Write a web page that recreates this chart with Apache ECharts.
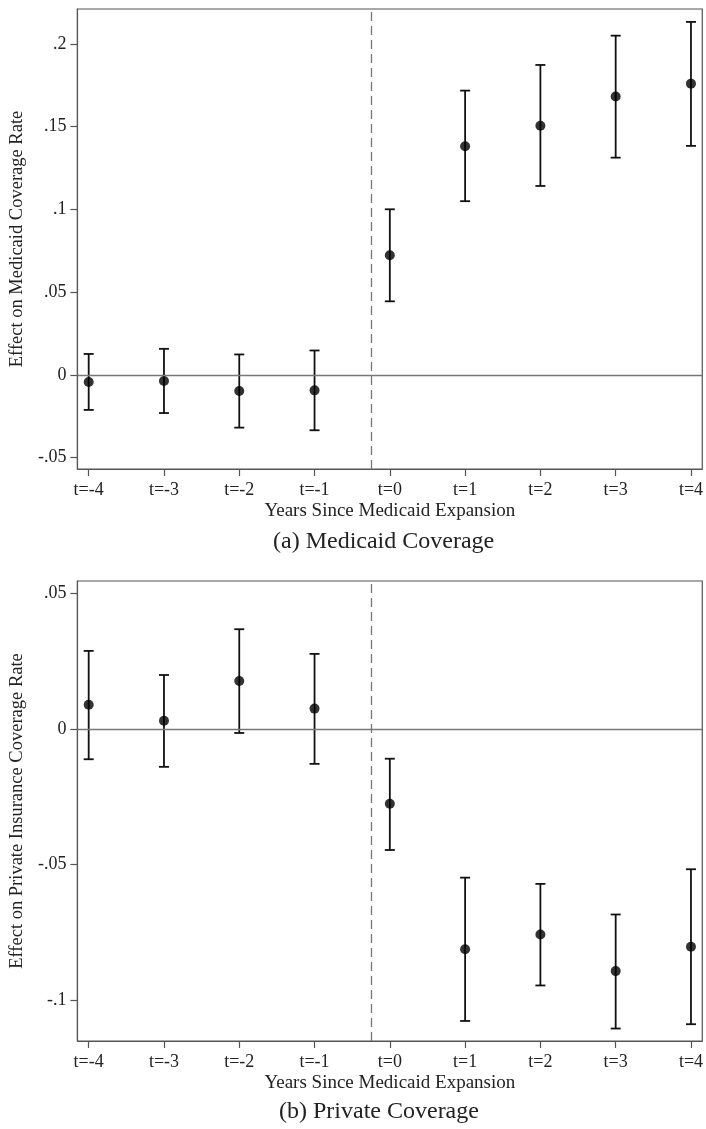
<!DOCTYPE html>
<html>
<head>
<meta charset="utf-8">
<script src="https://cdn.jsdelivr.net/npm/echarts@6/dist/echarts.min.js"></script>
<style>
html,body{margin:0;padding:0;background:#fff;}
#chart{width:706px;height:1129px;}
</style>
</head>
<body>
<div id="chart"></div>
<script>
// ---- data ----
const periods = [-4, -3, -2, -1, 0, 1, 2, 3, 4];
const periodLabels = ['t=-4', 't=-3', 't=-2', 't=-1', 't=0', 't=1', 't=2', 't=3', 't=4'];

const medicaidEst = [-0.0042, -0.0036, -0.0097, -0.0093, 0.0723, 0.1382, 0.1506, 0.1682, 0.1760];
const medicaidLo  = [-0.0211, -0.0230, -0.0318, -0.0334, 0.0445, 0.1050, 0.1142, 0.1313, 0.1384];
const medicaidHi  = [ 0.0127,  0.0158,  0.0124,  0.0148, 0.1001, 0.1718, 0.1873, 0.2050, 0.2133];

const privateEst = [0.0090, 0.0031, 0.0178, 0.0076, -0.0275, -0.0812, -0.0758, -0.0893, -0.0803];
const privateLo  = [-0.0111, -0.0139, -0.0014, -0.0128, -0.0446, -0.1077, -0.0946, -0.1105, -0.1089];
const privateHi  = [0.0289, 0.0200, 0.0369, 0.0278, -0.0109, -0.0548, -0.0571, -0.0684, -0.0517];

const medicaidTicks = [-0.05, 0, 0.05, 0.1, 0.15, 0.2];
const medicaidTickLabels = ['-.05', '0', '.05', '.1', '.15', '.2'];
const privateTicks = [-0.1, -0.05, 0, 0.05];
const privateTickLabels = ['-.1', '-.05', '0', '.05'];

const expansionLine = -0.25;

// ---- chart ----
const FONT = 'Liberation Serif';
const AXIS_COLOR = '#555';
const chart = echarts.init(document.getElementById('chart'), null, {renderer: 'canvas'});

function labelFor(ticks, labels) {
  return function (v) {
    for (let i = 0; i < ticks.length; i++) {
      if (Math.abs(ticks[i] - v) < 1e-9) return labels[i];
    }
    return '';
  };
}

function xAxisDef(gridIndex) {
  return {
    type: 'value', gridIndex: gridIndex, min: -4.15, max: 4.15,
    name: 'Years Since Medicaid Expansion', nameLocation: 'middle', nameGap: 33,
    nameTextStyle: {fontFamily: FONT, fontSize: 19, color: '#222'},
    axisLine: {show: true, onZero: false, lineStyle: {color: AXIS_COLOR, width: 1.2}},
    axisTick: {show: true, length: 7, customValues: periods, lineStyle: {color: AXIS_COLOR, width: 1.2}},
    axisLabel: {show: true, margin: 12, customValues: periods, fontFamily: FONT, fontSize: 18, color: '#222',
      formatter: labelFor(periods, periodLabels)},
    splitLine: {show: false}
  };
}

function yAxisDef(gridIndex, min, max, ticks, labels, name) {
  return {
    type: 'value', gridIndex: gridIndex, min: min, max: max,
    name: name, nameLocation: 'middle', nameGap: 47, nameRotate: 90,
    nameTextStyle: {fontFamily: FONT, fontSize: 18.5, color: '#222'},
    axisLine: {show: true, onZero: false, lineStyle: {color: AXIS_COLOR, width: 1.2}},
    axisTick: {show: true, length: 7, customValues: ticks, lineStyle: {color: AXIS_COLOR, width: 1.2}},
    axisLabel: {show: true, margin: 11, customValues: ticks, fontFamily: FONT, fontSize: 18, color: '#222',
      formatter: labelFor(ticks, labels)},
    splitLine: {show: false}
  };
}

function renderErrorBar(params, api) {
  const x = api.value(0), lo = api.value(1), hi = api.value(2);
  const pLo = api.coord([x, lo]);
  const pHi = api.coord([x, hi]);
  const hw = 5;
  const style = {stroke: '#111', lineWidth: 1.8, fill: null};
  return {
    type: 'group',
    children: [
      {type: 'line', shape: {x1: pLo[0], y1: pLo[1], x2: pHi[0], y2: pHi[1]}, style: style},
      {type: 'line', shape: {x1: pLo[0] - hw, y1: pLo[1], x2: pLo[0] + hw, y2: pLo[1]}, style: style},
      {type: 'line', shape: {x1: pHi[0] - hw, y1: pHi[1], x2: pHi[0] + hw, y2: pHi[1]}, style: style}
    ]
  };
}

function seriesFor(idx, est, lo, hi) {
  return [
    {
      type: 'custom', xAxisIndex: idx, yAxisIndex: idx, renderItem: renderErrorBar,
      data: periods.map((p, i) => [p, lo[i], hi[i]]), silent: true, z: 3
    },
    {
      type: 'scatter', xAxisIndex: idx, yAxisIndex: idx, symbol: 'circle', symbolSize: 10,
      itemStyle: {color: '#000'}, data: periods.map((p, i) => [p, est[i]]), silent: true, z: 4,
      markLine: {
        silent: true, symbol: 'none', label: {show: false}, animation: false,
        data: [
          {yAxis: 0, lineStyle: {color: '#777', width: 1.3, type: 'solid'}},
          {xAxis: expansionLine, lineStyle: {color: '#777', width: 1.3, type: [9, 5]}}
        ]
      }
    }
  ];
}

const option = {
  animation: false,
  backgroundColor: '#fff',
  title: [
    {text: '(a) Medicaid Coverage', left: 268, top: 525, textStyle: {fontFamily: FONT, fontSize: 24, fontWeight: 'normal', color: '#222'}},
    {text: '(b) Private Coverage', left: 274, top: 1095, textStyle: {fontFamily: FONT, fontSize: 24, fontWeight: 'normal', color: '#222'}}
  ],
  grid: [
    {left: 75, top: 9, width: 629, height: 460, show: true, borderColor: AXIS_COLOR, borderWidth: 1.2, backgroundColor: 'transparent'},
    {left: 75, top: 581, width: 629, height: 460, show: true, borderColor: AXIS_COLOR, borderWidth: 1.2, backgroundColor: 'transparent'}
  ],
  xAxis: [xAxisDef(0), xAxisDef(1)],
  yAxis: [
    yAxisDef(0, -0.0568, 0.2211, medicaidTicks, medicaidTickLabels, 'Effect on Medicaid Coverage Rate'),
    yAxisDef(1, -0.1151, 0.0547, privateTicks, privateTickLabels, 'Effect on Private Insurance Coverage Rate')
  ],
  series: [].concat(
    seriesFor(0, medicaidEst, medicaidLo, medicaidHi),
    seriesFor(1, privateEst, privateLo, privateHi)
  )
};
chart.setOption(option);
</script>
</body>
</html>
